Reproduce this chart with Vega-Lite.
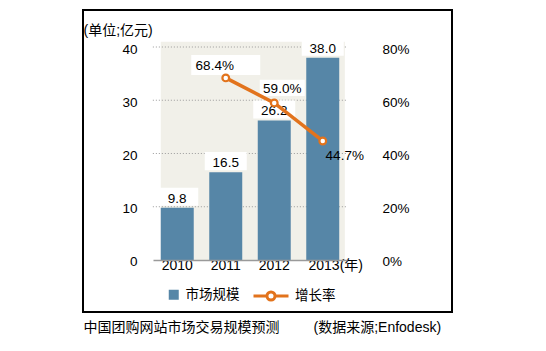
{
  "$schema": "https://vega.github.io/schema/vega-lite/v6.json",
  "autosize": "none",
  "width": 369,
  "height": 302,
  "padding": {"left": 83, "top": 10, "right": 94, "bottom": 39},
  "background": "white",
  "datasets": {
    "market": [
      {"year": "2010", "value": 9.8, "rate": null},
      {"year": "2011", "value": 16.5, "rate": 0.684},
      {"year": "2012", "value": 26.2, "rate": 0.590},
      {"year": "2013", "value": 38.0, "rate": 0.447}
    ],
    "grid": [{"g": 10}, {"g": 20}, {"g": 30}, {"g": 40}],
    "panel": [{"lo": 0, "hi": 41}]
  },
  "data": {"name": "market"},
  "resolve": {"scale": {"y": "independent"}},
  "layer": [
    {
      "layer": [
        {
          "data": {"name": "panel"},
          "mark": {"type": "rect", "color": "#f1f0e9"},
          "encoding": {
            "x": {"datum": "2010", "type": "nominal", "bandPosition": 0, "scale": {"type": "band", "range": [70, 264], "paddingInner": 0.32, "paddingOuter": 0.16}},
            "x2": {"datum": "2013", "bandPosition": 1.17},
            "y": {"field": "lo", "type": "quantitative", "scale": {"domain": [-9.77, 46.95], "nice": false, "zero": false}},
            "y2": {"field": "hi"}
          }
        },
        {
          "data": {"name": "grid"},
          "mark": {"type": "rule", "color": "#9a9a9a", "strokeDash": [1, 2], "strokeWidth": 1},
          "encoding": {
            "x": {"datum": "2010", "type": "nominal", "bandPosition": -0.24, "scale": {"type": "band", "range": [70, 264], "paddingInner": 0.32, "paddingOuter": 0.16}},
            "x2": {"datum": "2013", "bandPosition": 1.23},
            "y": {"field": "g", "type": "quantitative", "scale": {"domain": [-9.77, 46.95], "nice": false, "zero": false}}
          }
        },
        {
          "mark": {"type": "bar", "color": "#5686a7"},
          "encoding": {
            "x": {
              "field": "year", "type": "nominal",
              "scale": {"type": "band", "range": [70, 264], "paddingInner": 0.32, "paddingOuter": 0.16},
              "axis": {
                "orient": "bottom", "offset": -52, "ticks": false, "tickSize": 0, "bandPosition": 0.5,
                "domain": true, "domainColor": "#9a9a9a", "domainWidth": 1.5,
                "labelPadding": 5, "labelFontSize": 14, "labelColor": "#000", "labelAngle": 0, "labelAlign": "center",
                "labelExpr": "datum.value == '2013' ? '2013(年)' : datum.label",
                "labelOffset": {"condition": {"test": "datum.value == '2013'", "value": 13}, "value": 0},
                "title": "中国团购网站市场交易规模预测",
                "titleX": 0, "titleY": 67, "titleAlign": "left", "titleAnchor": "start",
                "titleBaseline": "middle", "titleFontSize": 14, "titleFontWeight": "normal", "titleColor": "#000"
              }
            },
            "y": {
              "field": "value", "type": "quantitative",
              "scale": {"domain": [-9.77, 46.95], "nice": false, "zero": false},
              "axis": {
                "orient": "left", "offset": -69, "values": [0, 10, 20, 30, 40],
                "grid": false, "domain": false, "ticks": false, "tickSize": 0,
                "labelPadding": 15, "labelFontSize": 13.5, "labelColor": "#000", "labelOffset": 2,
                "title": "(单位;亿元)", "titleAngle": 0, "titleX": -69, "titleY": 20,
                "titleAlign": "left", "titleBaseline": "middle", "titleFontSize": 14,
                "titleFontWeight": "normal", "titleColor": "#000"
              }
            },
            "fill": {
              "datum": "市场规模", "type": "nominal",
              "scale": {"range": ["#5686a7"]},
              "legend": {
                "orient": "none", "legendX": 84, "legendY": 278, "title": null,
                "symbolType": "square", "symbolSize": 100, "symbolStrokeWidth": 0,
                "labelFontSize": 13.5, "labelColor": "#000", "labelOffset": 5, "padding": 0
              }
            }
          }
        },
        {
          "mark": {"type": "point", "shape": "M-1,-0.43L1,-0.43L1,0.43L-1,0.43Z", "size": 1764, "filled": true, "color": "white", "opacity": 1, "strokeWidth": 0, "yOffset": -11},
          "encoding": {
            "x": {"field": "year", "type": "nominal", "scale": {"type": "band", "range": [70, 264], "paddingInner": 0.32, "paddingOuter": 0.16}},
            "y": {"field": "value", "type": "quantitative", "scale": {"domain": [-9.77, 46.95], "nice": false, "zero": false}}
          }
        },
        {
          "mark": {"type": "text", "dy": -5, "baseline": "alphabetic", "fontSize": 13.5, "color": "#000"},
          "encoding": {
            "x": {"field": "year", "type": "nominal", "scale": {"type": "band", "range": [70, 264], "paddingInner": 0.32, "paddingOuter": 0.16}},
            "y": {"field": "value", "type": "quantitative", "scale": {"domain": [-9.77, 46.95], "nice": false, "zero": false}},
            "text": {"field": "value", "type": "quantitative", "format": ".1f"}
          }
        }
      ]
    },
    {
      "transform": [{"filter": "datum.rate != null"}],
      "layer": [
        {
          "transform": [{"filter": "datum.year == '2011'"}],
          "mark": {"type": "point", "shape": "M-1,-0.29L1,-0.29L1,0.29L-1,0.29Z", "size": 4761, "filled": true, "color": "white", "opacity": 1, "strokeWidth": 0, "yOffset": -13},
          "encoding": {
            "x": {"field": "year", "type": "nominal", "scale": {"type": "band", "range": [70, 264], "paddingInner": 0.32, "paddingOuter": 0.16}},
            "y": {"field": "rate", "type": "quantitative", "scale": {"domain": [-0.1954, 0.939], "nice": false, "zero": false}}
          }
        },
        {
          "transform": [{"filter": "datum.year == '2012'"}],
          "mark": {"type": "point", "shape": "M-1,-0.36L1,-0.36L1,0.36L-1,0.36Z", "size": 2025, "filled": true, "color": "white", "opacity": 1, "strokeWidth": 0, "xOffset": 8, "yOffset": -15},
          "encoding": {
            "x": {"field": "year", "type": "nominal", "scale": {"type": "band", "range": [70, 264], "paddingInner": 0.32, "paddingOuter": 0.16}},
            "y": {"field": "rate", "type": "quantitative", "scale": {"domain": [-0.1954, 0.939], "nice": false, "zero": false}}
          }
        },
        {
          "mark": {"type": "line", "color": "#e2731c", "strokeWidth": 3.5},
          "encoding": {
            "x": {"field": "year", "type": "nominal", "scale": {"type": "band", "range": [70, 264], "paddingInner": 0.32, "paddingOuter": 0.16}},
            "y": {
              "field": "rate", "type": "quantitative",
              "scale": {"domain": [-0.1954, 0.939], "nice": false, "zero": false},
              "axis": {
                "orient": "right", "offset": -76, "values": [0, 0.2, 0.4, 0.6, 0.8], "format": ".0%",
                "grid": false, "domain": false, "ticks": false, "tickSize": 0,
                "labelPadding": 6, "labelFontSize": 13.5, "labelColor": "#000", "labelOffset": 2,
                "title": "(数据来源;Enfodesk)", "titleAngle": 0, "titleX": -63, "titleY": 317,
                "titleAlign": "left", "titleBaseline": "middle", "titleFontSize": 14,
                "titleFontWeight": "normal", "titleColor": "#000"
              }
            },
            "stroke": {
              "datum": "增长率", "type": "nominal",
              "scale": {"range": ["#e2731c"]},
              "legend": {
                "orient": "none", "legendX": 169, "legendY": 267, "title": null,
                "symbolType": "M-1,0L-0.23,0M0.23,0L1,0M-0.23,0A0.23,0.23,0,1,0,0.23,0A0.23,0.23,0,1,0,-0.23,0Z",
                "symbolSize": 1225, "symbolStrokeWidth": 3, "symbolFillColor": "white",
                "labelFontSize": 13.5, "labelColor": "#000", "labelOffset": 5, "padding": 0
              }
            }
          }
        },
        {
          "mark": {"type": "point", "filled": true, "fill": "white", "stroke": "#e2731c", "strokeWidth": 2.2, "size": 45, "opacity": 1},
          "encoding": {
            "x": {"field": "year", "type": "nominal", "scale": {"type": "band", "range": [70, 264], "paddingInner": 0.32, "paddingOuter": 0.16}},
            "y": {"field": "rate", "type": "quantitative", "scale": {"domain": [-0.1954, 0.939], "nice": false, "zero": false}}
          }
        },
        {
          "transform": [{"filter": "datum.year == '2011'"}],
          "mark": {"type": "text", "dx": -11, "dy": -8, "baseline": "alphabetic", "fontSize": 13.5, "color": "#000"},
          "encoding": {
            "x": {"field": "year", "type": "nominal", "scale": {"type": "band", "range": [70, 264], "paddingInner": 0.32, "paddingOuter": 0.16}},
            "y": {"field": "rate", "type": "quantitative", "scale": {"domain": [-0.1954, 0.939], "nice": false, "zero": false}},
            "text": {"field": "rate", "type": "quantitative", "format": ".1%"}
          }
        },
        {
          "transform": [{"filter": "datum.year == '2012'"}],
          "mark": {"type": "text", "dx": 8, "dy": -10, "baseline": "alphabetic", "fontSize": 13.5, "color": "#000"},
          "encoding": {
            "x": {"field": "year", "type": "nominal", "scale": {"type": "band", "range": [70, 264], "paddingInner": 0.32, "paddingOuter": 0.16}},
            "y": {"field": "rate", "type": "quantitative", "scale": {"domain": [-0.1954, 0.939], "nice": false, "zero": false}},
            "text": {"field": "rate", "type": "quantitative", "format": ".1%"}
          }
        },
        {
          "transform": [{"filter": "datum.year == '2013'"}],
          "mark": {"type": "text", "dx": 22, "dy": 19, "baseline": "alphabetic", "fontSize": 13.5, "color": "#000"},
          "encoding": {
            "x": {"field": "year", "type": "nominal", "scale": {"type": "band", "range": [70, 264], "paddingInner": 0.32, "paddingOuter": 0.16}},
            "y": {"field": "rate", "type": "quantitative", "scale": {"domain": [-0.1954, 0.939], "nice": false, "zero": false}},
            "text": {"field": "rate", "type": "quantitative", "format": ".1%"}
          }
        }
      ]
    }
  ],
  "config": {
    "view": {"stroke": "#000", "strokeWidth": 2},
    "font": "Liberation Sans, Noto Sans CJK SC, sans-serif"
  }
}
